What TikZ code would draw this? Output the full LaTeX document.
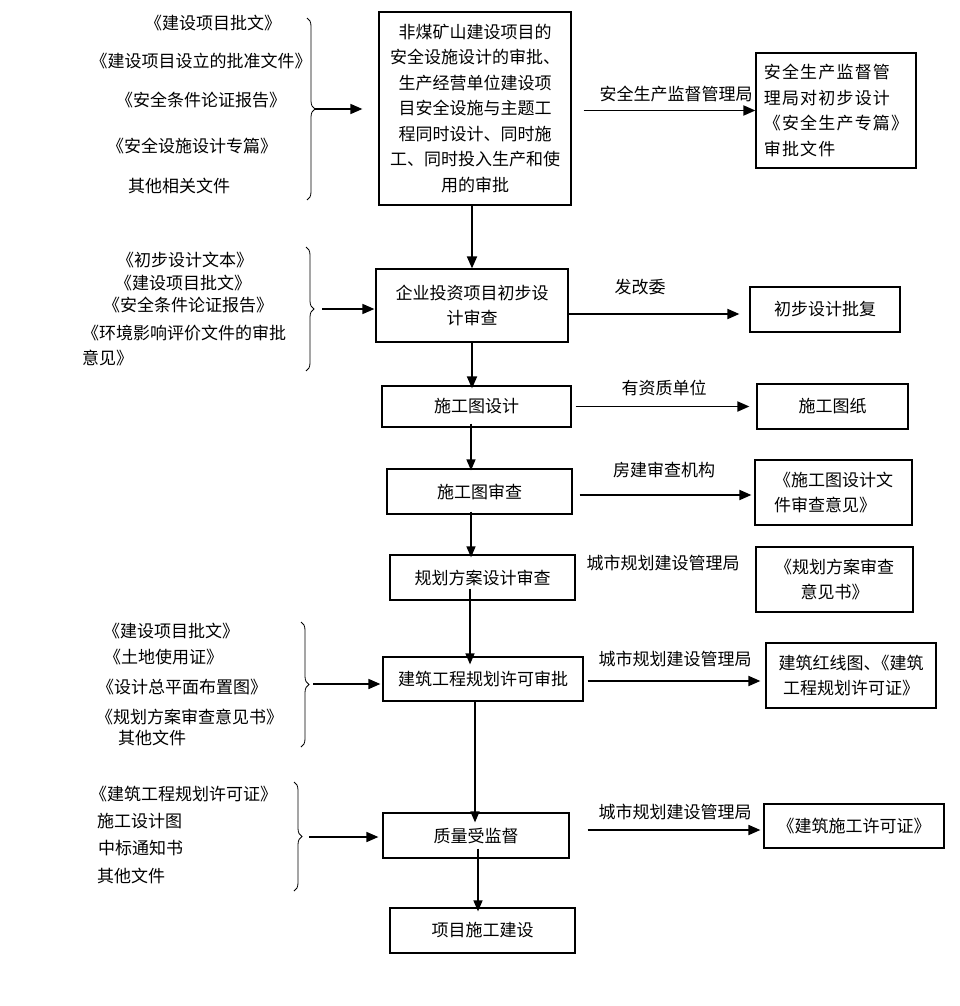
\documentclass[tikz,border=0pt]{standalone}
\usepackage{fontspec}
\setmainfont{Noto Sans CJK SC}
\newfontfamily\spacedcjk[LetterSpace=7]{Noto Sans CJK SC}
\usetikzlibrary{arrows.meta,decorations.pathreplacing,calc}
\begin{document}
\begin{tikzpicture}[x=1pt,y=-1pt,
  box/.style={draw,line width=1.2pt,inner sep=0pt,align=center,font=\fontsize{17}{25.5}\selectfont},
  txt/.style={inner sep=0pt,font=\fontsize{17}{20}\selectfont},
  lft/.style={txt,anchor=west},
  arr/.style={line width=1.8pt,-{Triangle[length=12pt,width=10pt]}},
  varr/.style={line width=1.4pt,-{Triangle[length=11pt,width=9pt]}},
  brc/.style={decorate,decoration={brace,amplitude=8pt},line width=0.8pt}
]
\useasboundingbox (0,0) rectangle (960,1006);
\fill[white] (0,0) rectangle (960,1006);

% main column
\node[box,minimum width=192pt,minimum height=193pt] (b1) at (475,108.5)
  {非煤矿山建设项目的\\安全设施设计的审批、\\生产经营单位建设项\\目安全设施与主题工\\程同时设计、同时施\\工、同时投入生产和使\\用的审批};
\node[box,minimum width=192pt,minimum height=73pt] (b2) at (472,305.5)
  {企业投资项目初步设\\计审查};
\node[box,minimum width=189pt,minimum height=41pt] (b3) at (476.5,406.5) {施工图设计};
\node[box,minimum width=185pt,minimum height=45pt] (b4) at (479.5,491.5) {施工图审查};
\node[box,minimum width=185pt,minimum height=45pt] (b5) at (482.5,577.5) {规划方案设计审查};
\node[box,minimum width=200pt,minimum height=44pt] (b6) at (483,679) {建筑工程规划许可审批};
\node[box,minimum width=186pt,minimum height=45pt] (b7) at (476,835.5) {质量受监督};
\node[box,minimum width=185pt,minimum height=45pt] (b8) at (482.5,930.5) {项目施工建设};

% right column
\node[box,minimum width=160pt,minimum height=115pt,align=left,
      font={\spacedcjk\fontsize{17}{25.5}\selectfont}] (b1r) at (836,110.5)
  {安全生产监督管\\理局对初步设计\\《安全生产专篇》\\审批文件};
\node[box,minimum width=150pt,minimum height=45pt] (b2r) at (825,309.5) {初步设计批复};
\node[box,minimum width=151pt,minimum height=45pt] (b3r) at (832.5,406.5) {施工图纸};
\node[box,minimum width=157pt,minimum height=65pt,align=left] (b4r) at (833.5,492.5)
  {《施工图设计文\\件审查意见》};
\node[box,minimum width=157pt,minimum height=65pt] (b5r) at (834.5,579.5)
  {《规划方案审查\\意见书》};
\node[box,minimum width=170pt,minimum height=65pt] (b6r) at (851,675.5)
  {建筑红线图、\kern-8pt《建筑\\工程规划许可证》};
\node[box,minimum width=180pt,minimum height=44pt] (b7r) at (854,826) {《建筑施工许可证》};

% connector labels
\node[txt] (l1) at (676,94) {安全生产监督管理局};
\node[txt] (l2) at (640,287) {发改委};
\node[txt] (l3) at (664,388) {有资质单位};
\node[txt] (l4) at (664,470) {房建审查机构};
\node[txt] (l5) at (663,563) {城市规划建设管理局};
\node[txt] (l6) at (675,659) {城市规划建设管理局};
\node[txt] (l7) at (675,812) {城市规划建设管理局};

% vertical arrows
\draw[arr] (b1.south -| b2.north) -- (b2.north);
\draw[arr] (b2.south) -- ([yshift=-3pt]b2.south |- b3.north);
\draw[varr] ([yshift=4pt]b3.south -| 471,0) -- ([yshift=-2pt]b4.north -| 471,0);
\draw[varr] ([yshift=3pt]b4.south -| 471,0) -- ([yshift=-3pt]b5.north -| 471,0);
\draw[varr] ([yshift=12pt]b5.south -| 470,0) -- ([yshift=-8pt]b6.north -| 470,0);
\draw[varr] (b6.south -| 475,0) -- ([yshift=-10pt]b7.north -| 475,0);
\draw[varr] ([yshift=10pt]b7.south -| 478,0) -- ([yshift=-4pt]b8.north -| 478,0);

% horizontal arrows to the right
\draw[arr] ([xshift=12pt]b1.east |- b1r.west) -- (b1r.west);
\draw[arr] (b2.east |- 0,314) -- ([xshift=-10pt]b2r.west |- 0,314);
\draw[arr] ([xshift=4pt]b3.east) -- ([xshift=-7pt]b3r.west |- b3.east);
\draw[arr] ([xshift=7pt]b4.east |- 0,495) -- ([xshift=-3pt]b4r.west |- 0,495);
\draw[arr] ([xshift=4pt]b6.east |- 0,681) -- ([xshift=-5pt]b6r.west |- 0,681);
\draw[arr] ([xshift=18pt]b7.east |- 0,830) -- ([xshift=-3pt]b7r.west |- 0,830);

% left group 1
\node[txt] (a1) at (213,23) {《建设项目批文》};
\node[txt] (a2) at (201,61) {《建设项目设立的批准文件》};
\node[txt] (a3) at (201,100) {《安全条件论证报告》};
\node[txt] (a4) at (192,146) {《安全设施设计专篇》};
\node[txt] (a5) at (179,186) {其他相关文件};
\draw[brc] (307,18) -- (307,200);
\coordinate (t1) at (315,109);
\draw[arr,line width=1.6pt] (t1) -- ([xshift=-16pt]b1.west |- t1);

% left group 2
\node[txt] (c1) at (185,260) {《初步设计文本》};
\node[txt] (c2) at (183,283) {《建设项目批文》};
\node[txt] (c3) at (188,305) {《安全条件论证报告》};
\node[lft] (c4) at (82,333) {《环境影响评价文件的审批};
\node[lft] (c5) at (82,358) {意见》};
\draw[brc] (306,247) -- (306,371);
\coordinate (t2) at (314,309);
\draw[arr,line width=1.6pt] ([xshift=8pt]t2) -- ([xshift=-1pt]b2.west |- t2);

% left group 3
\node[lft] (d1) at (103,631) {《建设项目批文》};
\node[lft] (d2) at (104,657) {《土地使用证》};
\node[lft] (d3) at (97,687) {《设计总平面布置图》};
\node[lft] (d4) at (96,717) {《规划方案审查意见书》};
\node[lft] (d5) at (118,738) {其他文件};
\draw[brc] (301,622) -- (301,747);
\coordinate (t3) at (309,684);
\draw[arr,line width=1.6pt] ([xshift=4pt]t3) -- ([xshift=-2pt]b6.west |- t3);

% left group 4
\node[lft] (e1) at (90,794) {《建筑工程规划许可证》};
\node[lft] (e2) at (97,821) {施工设计图};
\node[lft] (e3) at (98,848) {中标通知书};
\node[lft] (e4) at (97,876) {其他文件};
\draw[brc] (294,782) -- (294,891);
\coordinate (t4) at (302,837);
\draw[arr,line width=1.6pt] ([xshift=7pt]t4) -- ([xshift=-4pt]b7.west |- t4);
\end{tikzpicture}
\end{document}
